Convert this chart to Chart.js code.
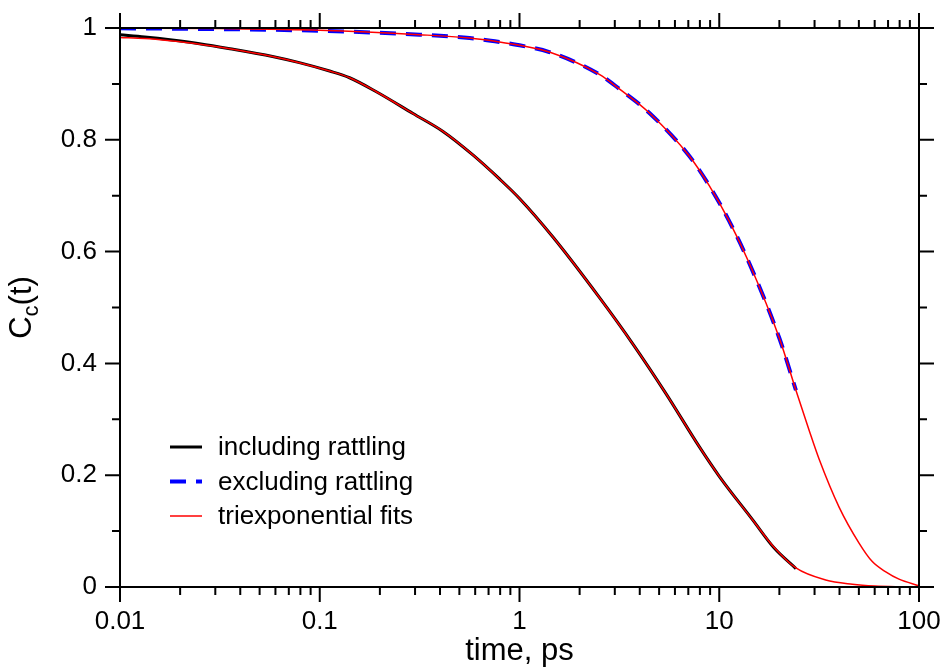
<!DOCTYPE html>
<html>
<head>
<meta charset="utf-8">
<script src="https://cdn.jsdelivr.net/npm/chart.js@4.4.1/dist/chart.umd.min.js"></script>
<style>
  html, body { margin: 0; padding: 0; background: #fff; }
  #wrap { width: 944px; height: 669px; }
</style>
</head>
<body>
<div id="wrap"><canvas id="corr-chart" width="944" height="669"></canvas></div>
<script>
const FONT = '"Liberation Sans", Arial, Helvetica, sans-serif';

// C_c(t), including rattling (black)
const inclTime  = [0.01, 0.0133, 0.0178, 0.025, 0.0355, 0.058, 0.079, 0.112, 0.141, 0.192, 0.293, 0.414, 0.584, 0.794, 1.0, 1.47, 2.51, 3.69, 5.41, 7.94, 10, 14.7, 18.8, 24.2];
const inclValue = [0.988, 0.984, 0.979, 0.972, 0.963, 0.949, 0.938, 0.923, 0.911, 0.886, 0.847, 0.815, 0.773, 0.730, 0.695, 0.626, 0.518, 0.435, 0.346, 0.251, 0.198, 0.120, 0.070, 0.033];

// C_c(t), excluding rattling (blue dashed)
const exclTime  = [0.01, 0.0316, 0.1, 0.316, 0.562, 0.794, 1.0, 1.41, 2.51, 3.16, 4.47, 7.08, 8.91, 11.2, 14.1, 20.0, 24.2];
const exclValue = [0.9995, 0.998, 0.995, 0.988, 0.982, 0.975, 0.969, 0.957, 0.917, 0.891, 0.848, 0.771, 0.718, 0.655, 0.580, 0.445, 0.352];

// triexponential fits (red)
const fitInclTime  = [0.01, 0.0133, 0.0178, 0.025, 0.0355, 0.058, 0.079, 0.112, 0.141, 0.192, 0.293, 0.414, 0.584, 0.794, 1.0, 1.47, 2.51, 3.69, 5.41, 7.94, 10, 14.7, 18.8, 24.2, 34.1, 46.4, 60, 80, 100];
const fitInclValue = [0.983, 0.981, 0.977, 0.971, 0.963, 0.949, 0.938, 0.923, 0.911, 0.886, 0.847, 0.815, 0.773, 0.730, 0.695, 0.626, 0.518, 0.435, 0.346, 0.251, 0.198, 0.120, 0.071, 0.034, 0.0125, 0.005, 0.0018, 0.0005, 0.0001];
const fitExclTime  = [0.01, 0.0316, 0.1, 0.316, 0.562, 0.794, 1.0, 1.41, 2.51, 3.16, 4.47, 7.08, 8.91, 11.2, 14.1, 20.0, 24.2, 28.2, 31.6, 39.8, 50.1, 58.2, 68.2, 79.4, 100];
const fitExclValue = [1.0, 0.999, 0.996, 0.988, 0.982, 0.975, 0.969, 0.957, 0.917, 0.891, 0.848, 0.771, 0.718, 0.655, 0.580, 0.445, 0.352, 0.280, 0.229, 0.143, 0.0786, 0.046, 0.027, 0.014, 0.002];

const xTickValues = [0.01, 0.1, 1, 10, 100];
const yTickValues = [0, 0.2, 0.4, 0.6, 0.8, 1];
const legendLabels = ['including rattling', 'excluding rattling', 'triexponential fits'];

function toPoints(ts, vs) {
  return ts.map((t, i) => ({ x: t, y: vs[i] }));
}

// frame with outward ticks on all four sides
const frameTicks = {
  id: 'frameTicks',
  afterDraw(chart) {
    const { ctx, chartArea: a, scales: { x, y } } = chart;
    ctx.save();
    ctx.strokeStyle = '#000';
    ctx.lineWidth = 2;
    ctx.strokeRect(a.left, a.top, a.right - a.left, a.bottom - a.top);
    ctx.beginPath();
    const tickX = (v, len) => {
      const px = x.getPixelForValue(v);
      ctx.moveTo(px, a.bottom); ctx.lineTo(px, a.bottom + len);
      ctx.moveTo(px, a.top); ctx.lineTo(px, a.top - len);
    };
    const tickY = (v, len) => {
      const py = y.getPixelForValue(v);
      ctx.moveTo(a.left, py); ctx.lineTo(a.left - len, py);
      ctx.moveTo(a.right, py); ctx.lineTo(a.right + len, py);
    };
    xTickValues.forEach(v => tickX(v, 15));
    xTickValues.slice(0, -1).forEach(d => {
      for (let k = 2; k <= 9; k++) tickX(d * k, 8);
    });
    yTickValues.forEach(v => tickY(v, 15));
    yTickValues.slice(0, -1).forEach((v, i) => tickY((v + yTickValues[i + 1]) / 2, 8));
    ctx.stroke();
    ctx.restore();
  }
};

// y title with subscript
const yTitle = {
  id: 'yTitle',
  afterDraw(chart) {
    const { ctx, chartArea: a } = chart;
    const size = 31;
    const main = size + 'px ' + FONT;
    const sub = Math.round(size * 0.72) + 'px ' + FONT;
    ctx.save();
    ctx.translate(31, (a.top + a.bottom) / 2);
    ctx.rotate(-Math.PI / 2);
    ctx.fillStyle = '#000';
    ctx.textBaseline = 'alphabetic';
    ctx.font = main;
    const w1 = ctx.measureText('C').width;
    const w3 = ctx.measureText('(t)').width;
    ctx.font = sub;
    const w2 = ctx.measureText('c').width;
    const x0 = -(w1 + w2 + w3) / 2;
    ctx.font = main;
    ctx.fillText('C', x0, 0);
    ctx.font = sub;
    ctx.fillText('c', x0 + w1, size * 0.22);
    ctx.font = main;
    ctx.fillText('(t)', x0 + w1 + w2, 0);
    ctx.restore();
  }
};

// legend inside the plot, bottom left
const insideLegend = {
  id: 'insideLegend',
  afterDraw(chart) {
    const { ctx, chartArea: a } = chart;
    const ds = chart.data.datasets;
    const rows = [ds[0], ds[1], ds[2]];
    ctx.save();
    ctx.font = '26px ' + FONT;
    ctx.textBaseline = 'middle';
    ctx.fillStyle = '#000';
    rows.forEach((d, i) => {
      const yy = a.top + 419 + i * 34.5;
      ctx.beginPath();
      ctx.strokeStyle = d.borderColor;
      ctx.lineWidth = d.borderWidth;
      ctx.setLineDash(d.borderDash || []);
      ctx.moveTo(a.left + 50, yy);
      ctx.lineTo(a.left + 82, yy);
      ctx.stroke();
      ctx.fillText(legendLabels[i], a.left + 98, yy + 1);
    });
    ctx.restore();
  }
};

const corr = document.getElementById('corr-chart');
new Chart(corr, {
  type: 'line',
  data: {
    datasets: [
      {
        label: legendLabels[0],
        data: toPoints(inclTime, inclValue),
        borderColor: '#000000',
        borderWidth: 3,
        order: 1
      },
      {
        label: legendLabels[1],
        data: toPoints(exclTime, exclValue),
        borderColor: '#0000ff',
        borderWidth: 4,
        borderDash: [16, 10],
        order: 1
      },
      {
        label: legendLabels[2],
        data: toPoints(fitInclTime, fitInclValue),
        borderColor: '#ff0000',
        borderWidth: 1.5,
        order: 0
      },
      {
        label: legendLabels[2],
        data: toPoints(fitExclTime, fitExclValue),
        borderColor: '#ff0000',
        borderWidth: 1.5,
        order: 0
      }
    ]
  },
  options: {
    responsive: false,
    animation: false,
    parsing: false,
    elements: {
      point: { radius: 0 },
      line: { cubicInterpolationMode: 'monotone', fill: false }
    },
    layout: { padding: { top: 28, right: 25, left: 0, bottom: 0 } },
    scales: {
      x: {
        type: 'logarithmic',
        min: 0.01,
        max: 100,
        afterBuildTicks: s => { s.ticks = xTickValues.map(v => ({ value: v })); },
        afterFit: s => {
          s.height = 82;
          s.paddingLeft = 0; s.paddingRight = 0;
        },
        grid: { display: false, drawTicks: false },
        border: { display: false },
        ticks: {
          color: '#000',
          font: { family: FONT, size: 26 },
          padding: 19,
          maxRotation: 0,
          autoSkip: false,
          callback: v => String(+v)
        },
        title: {
          display: true,
          text: 'time, ps',
          color: '#000',
          font: { family: FONT, size: 31, lineHeight: 1.1 },
          padding: { top: 0, bottom: 0 }
        }
      },
      y: {
        type: 'linear',
        min: 0,
        max: 1,
        afterBuildTicks: s => { s.ticks = yTickValues.map(v => ({ value: v })); },
        afterFit: s => {
          s.width = 120;
          s.paddingTop = 0; s.paddingBottom = 0;
        },
        grid: { display: false, drawTicks: false },
        border: { display: false },
        ticks: {
          color: '#000',
          font: { family: FONT, size: 26 },
          padding: 23,
          callback: v => String(+v)
        }
      }
    },
    plugins: {
      legend: { display: false },
      tooltip: { enabled: false }
    }
  },
  plugins: [frameTicks, yTitle, insideLegend]
});
</script>
</body>
</html>
